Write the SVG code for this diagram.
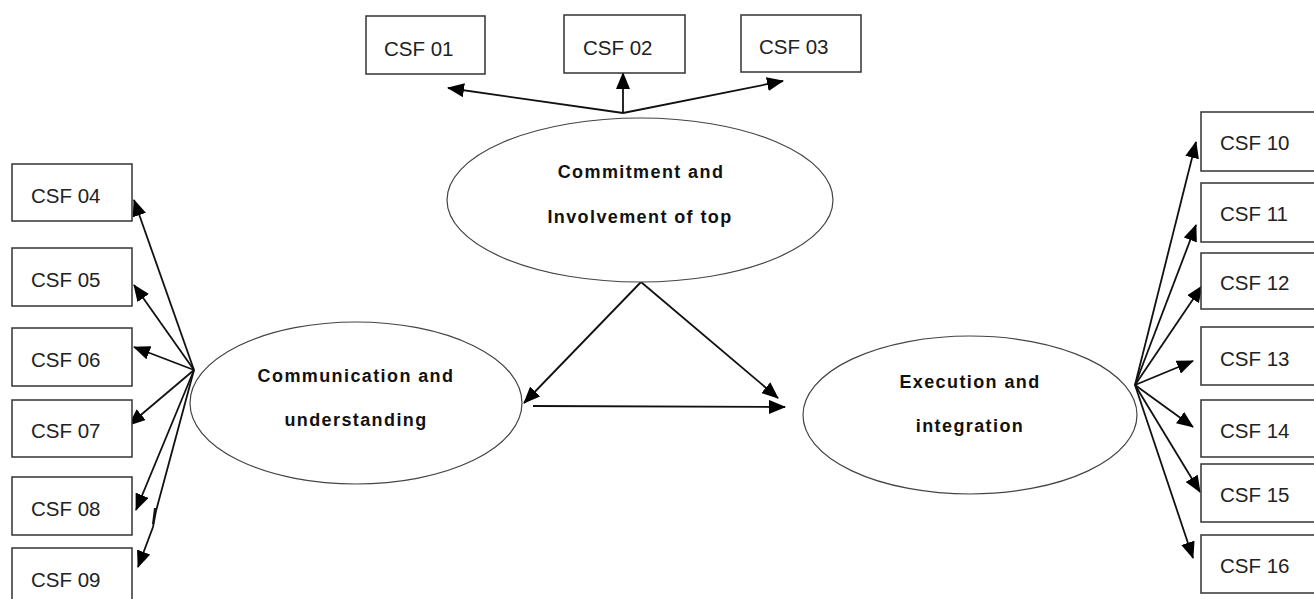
<svg xmlns="http://www.w3.org/2000/svg" width="1314" height="599" viewBox="0 0 1314 599">
<style>
.box{fill:#fff;stroke:#333;stroke-width:1.5}
.ell{fill:#fff;stroke:#444;stroke-width:1.2}
.lbl{font-family:"Liberation Sans",Arial,sans-serif;font-size:20.5px;fill:#222}
.big{font-family:"Liberation Sans",Arial,sans-serif;font-size:18px;font-weight:bold;fill:#111;letter-spacing:1.4px;text-anchor:middle}
.con{stroke:#111;stroke-width:1.8;fill:none;marker-end:url(#ah)}
</style>
<defs>
<marker id="ah" markerUnits="userSpaceOnUse" markerWidth="17" markerHeight="14" viewBox="0 0 17 14" refX="16" refY="7" orient="auto">
<path d="M0,0 L17,7 L0,14 Z" fill="#000"/>
</marker>
</defs>
<rect width="1314" height="599" fill="#fff"/>

<g id="connectors">
<line class="con" x1="623" y1="113" x2="448" y2="88"/>
<line class="con" x1="623" y1="113" x2="623" y2="73"/>
<line class="con" x1="623" y1="113" x2="783" y2="81"/>
<line class="con" x1="641" y1="282" x2="524" y2="403"/>
<line class="con" x1="641" y1="282" x2="778" y2="398"/>
<line class="con" x1="533" y1="406" x2="785" y2="407"/>
<line class="con" x1="194" y1="370" x2="134" y2="200"/>
<line class="con" x1="194" y1="370" x2="134" y2="285"/>
<line class="con" x1="194" y1="370" x2="134" y2="347"/>
<line class="con" x1="194" y1="370" x2="129" y2="425"/>
<line class="con" x1="194" y1="370" x2="136" y2="510"/>
<polyline class="con" points="194,370 156,511 153,527 138,567"/>
<line stroke="#111" stroke-width="2" x1="155" y1="508" x2="153" y2="524"/>
<line class="con" x1="1135" y1="385" x2="1196" y2="142"/>
<line class="con" x1="1135" y1="385" x2="1196" y2="225"/>
<line class="con" x1="1135" y1="385" x2="1202" y2="286"/>
<line class="con" x1="1135" y1="385" x2="1193" y2="361"/>
<line class="con" x1="1135" y1="385" x2="1193" y2="427"/>
<line class="con" x1="1135" y1="385" x2="1200" y2="492"/>
<line class="con" x1="1135" y1="385" x2="1193" y2="558"/>
</g>

<g id="n-commitment">
<ellipse class="ell" cx="640" cy="200" rx="193" ry="82"/>
<text class="big" x="641" y="178">Commitment and</text>
<text class="big" x="640" y="223">Involvement of top</text>
</g>
<g id="n-communication">
<ellipse class="ell" cx="356" cy="403" rx="166" ry="81"/>
<text class="big" x="356" y="382">Communication and</text>
<text class="big" x="356" y="426">understanding</text>
</g>
<g id="n-execution">
<ellipse class="ell" cx="970" cy="415" rx="167" ry="79"/>
<text class="big" x="970" y="388">Execution and</text>
<text class="big" x="970" y="432">integration</text>
</g>

<g id="csf01"><rect class="box" x="366" y="16" width="119" height="58"/><text class="lbl" x="384" y="56">CSF 01</text></g>
<g id="csf02"><rect class="box" x="564" y="15" width="121" height="58"/><text class="lbl" x="583" y="55">CSF 02</text></g>
<g id="csf03"><rect class="box" x="741" y="15" width="120" height="57"/><text class="lbl" x="759" y="54">CSF 03</text></g>

<g id="csf04"><rect class="box" x="12" y="164" width="120" height="57"/><text class="lbl" x="31" y="203">CSF 04</text></g>
<g id="csf05"><rect class="box" x="12" y="248" width="120" height="58"/><text class="lbl" x="31" y="287">CSF 05</text></g>
<g id="csf06"><rect class="box" x="12" y="328" width="120" height="58"/><text class="lbl" x="31" y="367">CSF 06</text></g>
<g id="csf07"><rect class="box" x="12" y="400" width="120" height="57"/><text class="lbl" x="31" y="438">CSF 07</text></g>
<g id="csf08"><rect class="box" x="12" y="477" width="120" height="58"/><text class="lbl" x="31" y="516">CSF 08</text></g>
<g id="csf09"><rect class="box" x="12" y="548" width="120" height="60"/><text class="lbl" x="31" y="587">CSF 09</text></g>

<g id="csf10"><rect class="box" x="1201" y="112" width="120" height="59"/><text class="lbl" x="1220" y="150">CSF 10</text></g>
<g id="csf11"><rect class="box" x="1201" y="183" width="120" height="59"/><text class="lbl" x="1220" y="221">CSF 11</text></g>
<g id="csf12"><rect class="box" x="1201" y="253" width="120" height="56"/><text class="lbl" x="1220" y="290">CSF 12</text></g>
<g id="csf13"><rect class="box" x="1201" y="327" width="120" height="58"/><text class="lbl" x="1220" y="366">CSF 13</text></g>
<g id="csf14"><rect class="box" x="1201" y="400" width="120" height="57"/><text class="lbl" x="1220" y="438">CSF 14</text></g>
<g id="csf15"><rect class="box" x="1201" y="464" width="120" height="58"/><text class="lbl" x="1220" y="502">CSF 15</text></g>
<g id="csf16"><rect class="box" x="1201" y="535" width="120" height="58"/><text class="lbl" x="1220" y="573">CSF 16</text></g>
</svg>
